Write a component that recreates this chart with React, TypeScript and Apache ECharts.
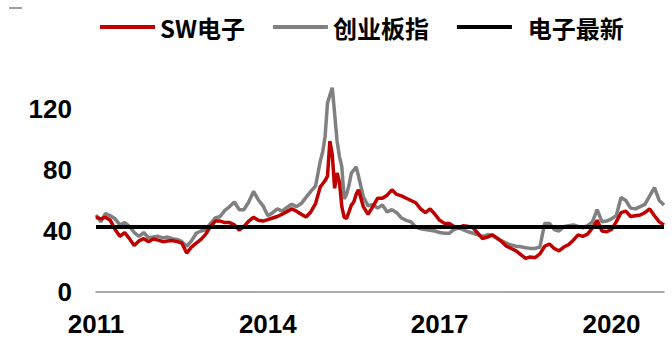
import { useEffect, useRef } from "react";
import * as echarts from "echarts";

// Months that also carry a mid-month reading (the sharp 2015 swing).
const midMonths = ["2014-12", "2015-01", "2015-02", "2015-03", "2015-04", "2015-05", "2015-06", "2015-07"];

// Observation dates: first of every month 2011-01 .. 2020-12, plus the 16th of midMonths.
const dates: string[] = [];
for (let y = 2011; y <= 2020; y++) {
  for (let m = 1; m <= 12; m++) {
    const ym = `${y}-${String(m).padStart(2, "0")}`;
    dates.push(`${ym}-01`);
    if (midMonths.includes(ym)) dates.push(`${ym}-16`);
  }
}

// SW电子 PE(TTM)
const swValues = [
  // 2011
  49, 48, 49, 47, 41, 36.5, 39, 35, 30.5, 33.5, 35, 33,
  // 2012
  34.7, 34, 33, 33.5, 33.8, 33, 32, 25.5, 29.5, 32, 34.5, 38,
  // 2013
  43, 46.5, 46.5, 45.5, 45.5, 44, 40.6, 43, 46.5, 49, 47, 46.5,
  // 2014 (December has a mid-month reading)
  47.5, 48.5, 49.5, 51, 52.7, 54.5, 53, 51, 49.2, 52.5, 58, 69, 71,
  // 2015 (January..July have mid-month readings)
  73, 76, 99, 90, 68, 78, 72, 56, 49, 48.3, 52.5, 57, 59, 64, 67, 56, 51, 56, 61.5,
  // 2016
  61.5, 63.5, 67, 64, 63, 61.5, 60, 58.5, 54.5, 52, 54.5, 51,
  // 2017
  47, 45, 45, 43, 42, 43.5, 43, 42, 38.5, 35, 36, 37.5,
  // 2018
  35.5, 33, 30, 28.5, 27, 24.5, 22, 23, 22.5, 25, 30, 31.5,
  // 2019
  28.5, 27, 29.5, 31, 34, 37.5, 36.5, 38, 42, 47, 40, 39.5,
  // 2020
  41, 46, 52, 53, 49.5, 50, 50.5, 52, 54.5, 50, 46, 44,
];

// 创业板指 PE(TTM)
const cybValues = [
  // 2011
  50.5, 46, 51.5, 50, 48, 44, 45.5, 43, 39, 36.5, 39, 35.5,
  // 2012
  36, 36.5, 35.5, 36, 35, 34.5, 33, 30, 33.5, 38.5, 40, 41,
  // 2013
  45, 48.5, 49.5, 53.5, 56, 59, 54, 54, 59, 66, 60.5, 56.5,
  // 2014 (December has a mid-month reading)
  50, 52, 54.5, 53, 55.5, 57.5, 56, 58, 62, 66, 69.5, 86, 92,
  // 2015 (January..July have mid-month readings)
  102, 124, 129, 134, 117, 99, 89, 82, 61, 64, 70, 78, 80, 82, 76, 62.5, 56.5, 57.5, 55,
  // 2016
  57, 52.5, 54, 52, 48.5, 47, 46, 42.5, 41.5, 41, 40.5, 40,
  // 2017
  39, 38.5, 38.5, 41, 42, 40.7, 39.5, 38.5, 37.5, 36.5, 37.5, 37,
  // 2018
  35, 33.5, 32, 30.8, 30, 29.7, 29, 28.6, 28.6, 29.5, 45, 45,
  // 2019
  41, 40, 42.8, 43.5, 44, 43, 42, 43.5, 46, 54, 46, 46.5,
  // 2020
  48, 50, 62, 60, 55, 54.5, 56, 57.5, 63, 68.5, 60, 57,
];

// Latest SW电子 PE, drawn as a flat reference line.
const latestValue = 42.6;

const yTicks = [0, 40, 80, 120];
const yearLabels = ["2011", "2014", "2017", "2020"];

const START_YEAR = 2011;

// Months elapsed since Jan 2011 (day 16 counts as half a month).
const toMonth = (d: string): number => {
  const [y, m, day] = d.split("-").map(Number);
  return (y - START_YEAR) * 12 + (m - 1) + (day - 1) / 30;
};

const CJK_FONT = "'Noto Sans CJK SC', 'Noto Sans', sans-serif";
const DIGIT_FONT = "'Liberation Sans', Arial, sans-serif";

export default function App() {
  const ref = useRef<HTMLDivElement>(null);

  useEffect(() => {
    if (!ref.current) return;
    document.body.style.margin = "0";
    const chart = echarts.init(ref.current, undefined, { renderer: "svg" });

    const xs = dates.map(toMonth);
    const xMax = xs[xs.length - 1];
    const sw = xs.map((x, i) => [x, swValues[i]]);
    const cyb = xs.map((x, i) => [x, cybValues[i]]);
    const latest = [
      [0, latestValue],
      [xMax, latestValue],
    ];

    const labelStyle = {
      fontFamily: DIGIT_FONT,
      fontSize: 26,
      fontWeight: "bold" as const,
      color: "#000",
    };

    chart.setOption({
      animation: false,
      graphic: [
        {
          type: "line",
          shape: { x1: 9, y1: 8, x2: 22, y2: 8 },
          style: { stroke: "#a0a0a0", lineWidth: 2 },
        },
      ],
      legend: {
        left: 95,
        top: 4.5,
        itemGap: 28,
        itemWidth: 55,
        itemHeight: 4,
        icon: "rect",
        data: ["SW电子", "创业板指", "电子最新"],
        formatter: (name: string) => (name === "电子最新" ? "  " + name : name),
        textStyle: {
          fontFamily: CJK_FONT,
          fontSize: 24,
          lineHeight: 24,
          fontWeight: "bold",
          color: "#000",
          padding: [11, 0, 0, 0],
        },
      },
      grid: { left: 96, right: 8, top: 78.5, bottom: 48 },
      xAxis: {
        type: "value",
        min: 0,
        max: xMax,
        interval: 36,
        axisLine: { show: true, lineStyle: { color: "#8c8c8c", width: 1.5 } },
        axisTick: { show: false },
        splitLine: { show: false },
        axisLabel: {
          ...labelStyle,
          lineHeight: 26,
          margin: 19,
          formatter: (v: number) => {
            if (v % 36 !== 0) return "";
            return yearLabels[v / 36] ?? "";
          },
        },
      },
      yAxis: {
        type: "value",
        min: 0,
        max: 140,
        interval: 40,
        axisLine: { show: false },
        axisTick: { show: false },
        splitLine: { show: false },
        axisLabel: {
          ...labelStyle,
          margin: 24,
          formatter: (v: number) => (yTicks.includes(v) ? String(v) : ""),
        },
      },
      series: [
        {
          name: "SW电子",
          type: "line",
          data: sw,
          symbol: "none",
          z: 3,
          lineStyle: { color: "#c00000", width: 3.5 },
          itemStyle: { color: "#c00000" },
        },
        {
          name: "创业板指",
          type: "line",
          data: cyb,
          symbol: "none",
          z: 2,
          lineStyle: { color: "#808080", width: 3.5 },
          itemStyle: { color: "#808080" },
        },
        {
          name: "电子最新",
          type: "line",
          data: latest,
          symbol: "none",
          z: 4,
          lineStyle: { color: "#000", width: 4 },
          itemStyle: { color: "#000" },
        },
      ],
    });

    return () => chart.dispose();
  }, []);

  return <div ref={ref} style={{ width: 672, height: 340 }} />;
}
